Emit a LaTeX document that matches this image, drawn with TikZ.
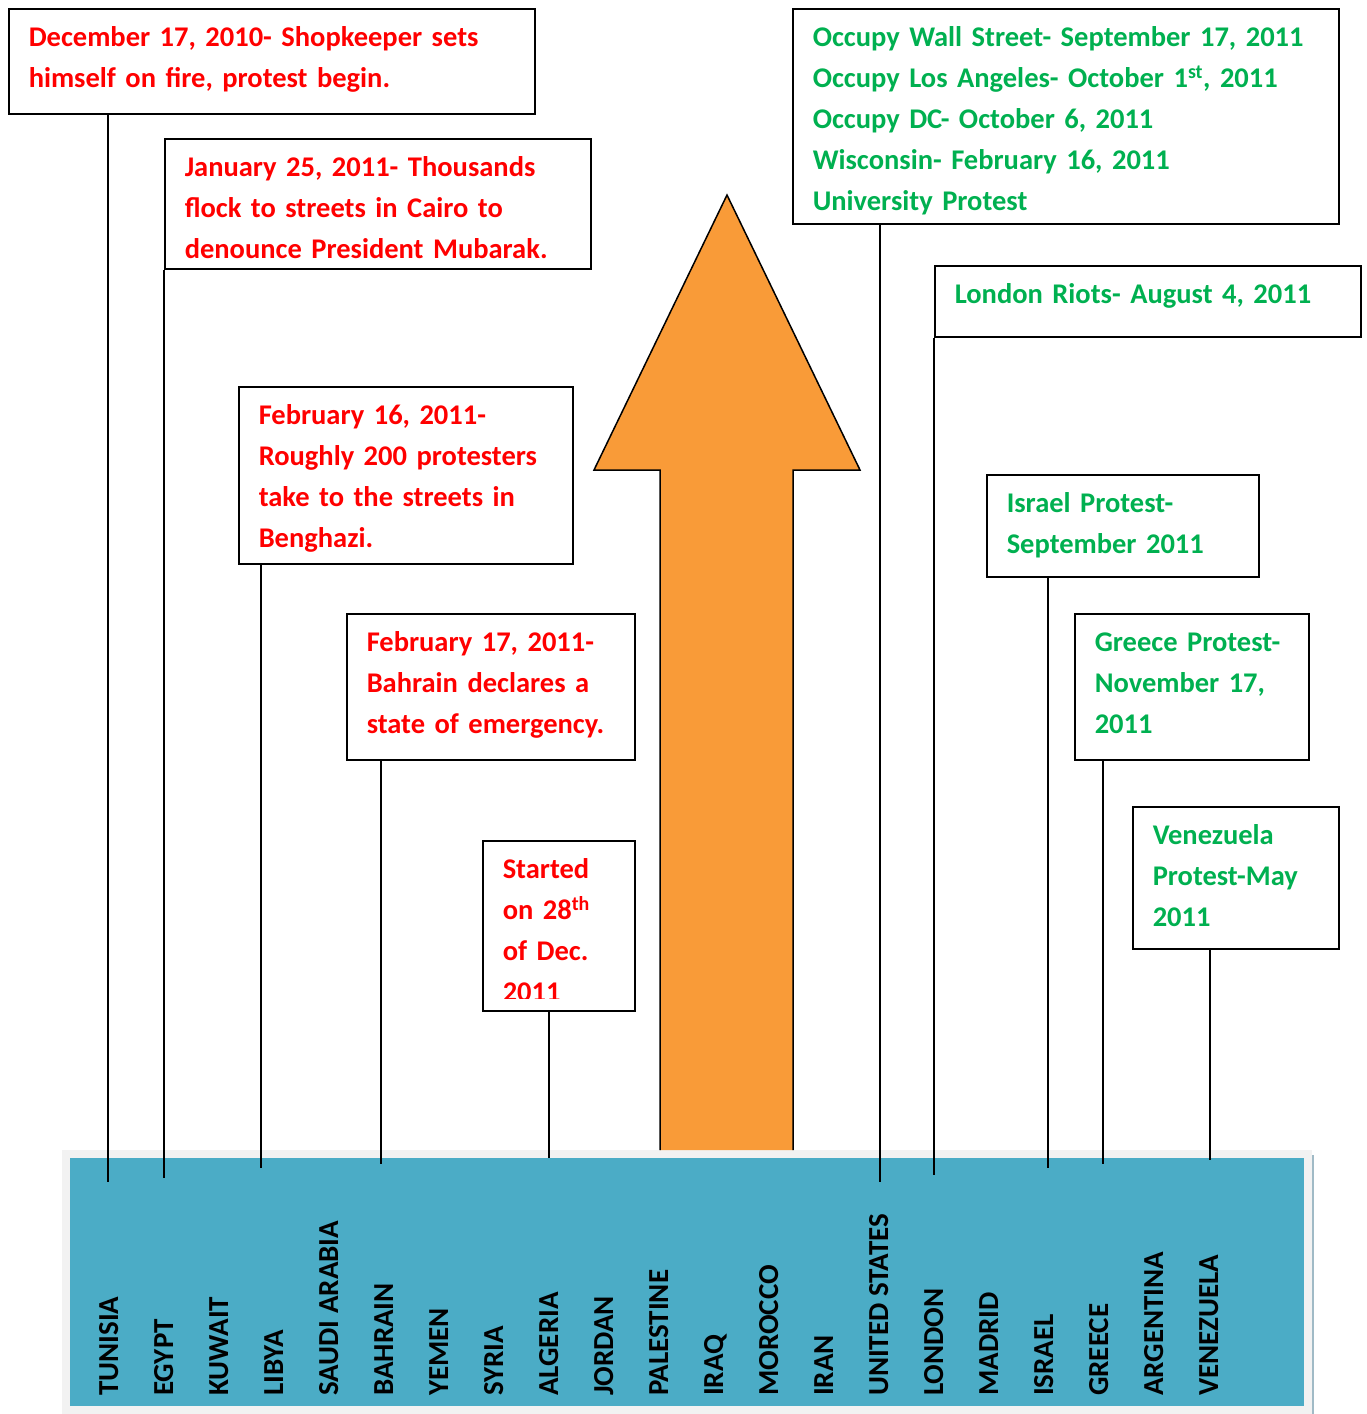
\documentclass[tikz,border=0pt]{standalone}
\usepackage{fontspec}
\setmainfont{Carlito}
\definecolor{evred}{RGB}{255,0,0}
\definecolor{evgreen}{RGB}{0,176,80}
\definecolor{barblue}{RGB}{75,172,198}
\definecolor{barframe}{RGB}{242,242,242}
\definecolor{barshade}{RGB}{160,186,198}
\definecolor{arrowfill}{RGB}{249,155,56}
\tikzset{
  evbox/.style={draw, line width=1.5pt, rectangle, anchor=north west, inner xsep=20pt, inner ysep=0pt,
    text height=38pt, align=left, font=\bfseries\fontsize{28.5}{41}\selectfont},
  redev/.style={evbox, text=evred},
  greenev/.style={evbox, text=evgreen},
  country/.style={rotate=90, anchor=base west, inner sep=0pt, font=\bfseries\fontsize{29}{35}\selectfont},
  link/.style={line width=1.5pt},
}
\begin{document}
\begin{tikzpicture}[x=1pt, y=-1pt]
    \useasboundingbox (0,0) rectangle (1366,1414);
    % Country bar
    \fill[barframe] (62,1150) rectangle (1312,1414);
    \fill[barblue] (70,1158) rectangle (1304,1406);
    \draw[barshade, line width=2pt] (1313,1155) -- (1313,1414);
    \foreach \c [count=\i from 0] in {TUNISIA,EGYPT,KUWAIT,LIBYA,SAUDI ARABIA,BAHRAIN,YEMEN,SYRIA,ALGERIA,JORDAN,PALESTINE,IRAQ,MOROCCO,IRAN,UNITED STATES,LONDON,MADRID,ISRAEL,GREECE,ARGENTINA,VENEZUELA}
        \node[country] (c\i) at (118+55*\i,1396) {\c};
    % Big arrow
    \draw[line width=1.5pt, fill=arrowfill] (660,1150) -- (660,470) -- (594,470) -- (727,195) -- (860,470) -- (793,470) -- (793,1150);
    % Arab spring events (text depth = box height - 38)
    \node[redev, text width=486, text depth=67pt] (tun) at (8,8) {December 17, 2010- Shopkeeper sets\\himself on fire, protest begin.};
    \node[redev, text width=386, text depth=92pt] (egy) at (164,138) {January 25, 2011- Thousands\\flock to streets in Cairo to\\denounce President Mubarak.};
    \node[redev, text width=294, text depth=139pt] (lib) at (238,386) {February 16, 2011-\\Roughly 200 protesters\\take to the streets in\\Benghazi.};
    \node[redev, text width=248, text depth=108pt] (bah) at (346,613) {February 17, 2011-\\Bahrain declares a\\state of emergency.};
    \node[redev, text width=112, text depth=132pt] (alg) at (482,840) {};
    \begin{scope}
        \clip (alg.north west) rectangle ([yshift=13pt]alg.south east);
        \node[redev, draw=none, text width=112, text depth=132pt] (algtxt) at (alg.north west) {Started\\on 28\textsuperscript{th}\\of Dec.\\2011};
    \end{scope}
    % Other protests
    \node[greenev, text width=506, text depth=177pt] (usa) at (792,8) {Occupy Wall Street- September 17, 2011\\Occupy Los Angeles- October 1\textsuperscript{st}, 2011\\Occupy DC- October 6, 2011\\Wisconsin- February 16, 2011\\University Protest};
    \node[greenev, text width=386, text depth=33pt] (lon) at (934,265) {London Riots- August 4, 2011};
    \node[greenev, text width=232, text depth=64pt] (isr) at (986,474) {Israel Protest-\\September 2011};
    \node[greenev, text width=194, text depth=108pt] (gre) at (1074,613) {Greece Protest-\\November 17,\\2011};
    \node[greenev, text width=166, text depth=104pt] (ven) at (1132,806) {Venezuela\\Protest-May\\2011};
    % Connectors down to the bar
    \coordinate (tunEnd) at (108,1182);
    \coordinate (egyEnd) at (164,1178);
    \coordinate (libEnd) at (261,1168);
    \coordinate (bahEnd) at (381,1164);
    \coordinate (algEnd) at (549,1158);
    \coordinate (usaEnd) at (880,1182);
    \coordinate (lonEnd) at (934,1175);
    \coordinate (isrEnd) at (1048,1168);
    \coordinate (greEnd) at (1103,1164);
    \coordinate (venEnd) at (1210,1160);
    \draw[link] (tun.south -| tunEnd) -- (tunEnd);
    \draw[link] (egy.south west) -- (egyEnd);
    \draw[link] (lib.south -| libEnd) -- (libEnd);
    \draw[link] (bah.south -| bahEnd) -- (bahEnd);
    \draw[link] (alg.south -| algEnd) -- (algEnd);
    \draw[link] (usa.south -| usaEnd) -- (usaEnd);
    \draw[link] (lon.south west) -- (lonEnd);
    \draw[link] (isr.south -| isrEnd) -- (isrEnd);
    \draw[link] (gre.south -| greEnd) -- (greEnd);
    \draw[link] (ven.south -| venEnd) -- (venEnd);
\end{tikzpicture}
\end{document}
